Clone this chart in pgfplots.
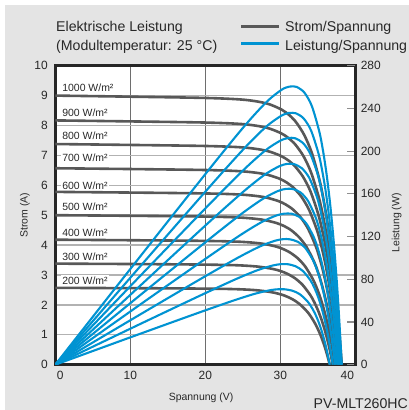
\documentclass[border=0pt]{standalone}
\usepackage{fontspec}
\setmainfont{Liberation Sans}
\usepackage{pgfplots}
\usepackage{pgfplotstable}
\pgfplotsset{compat=1.18}
\definecolor{bggray}{RGB}{228,228,228}
\definecolor{ivgray}{RGB}{88,88,88}
\definecolor{pblue}{RGB}{0,147,210}
\definecolor{hgrid}{RGB}{178,178,178}
\definecolor{vgrid}{RGB}{110,110,110}
\definecolor{txt}{RGB}{40,40,40}

% columns: voltage (V), current (A), power (W)
\pgfplotstableread{
V I P
0 9.000 0
10 8.964 89.6
20.2 8.920 180.2
25.2 8.860 223.3
28.2 8.736 246.3
30.2 8.528 257.6
31.2 8.347 260.4
31.7 8.225 260.7
32.2 8.078 260.1
33.2 7.679 254.9
34.2 7.085 242.3
35.2 6.201 218.3
35.7 5.608 200.2
36.2 4.885 176.8
36.7 4.001 146.8
37.2 2.923 108.7
37.7 1.607 60.6
38.2 0 0
}\gM
\pgfplotstableread{
V I P
0 8.170 0
10 8.137 81.4
20.1 8.098 162.8
25.1 8.044 201.9
28.1 7.930 222.8
30.1 7.742 233.0
31.1 7.578 235.7
31.6 7.467 235.9
32.1 7.334 235.4
33.1 6.971 230.7
34.1 6.432 219.3
35.1 5.629 197.6
35.6 5.091 181.2
36.1 4.434 160.1
36.6 3.632 132.9
37.1 2.654 98.5
37.6 1.459 54.9
38.1 0 0
}\gIX
\pgfplotstableread{
V I P
0 7.380 0
10 7.350 73.5
20 7.315 146.3
25 7.266 181.7
28 7.164 200.6
30 6.993 209.8
31 6.845 212.2
31.5 6.745 212.5
32 6.624 212.0
33 6.297 207.8
34 5.810 197.5
35 5.085 178.0
35.5 4.598 163.2
36 4.005 144.2
36.5 3.281 119.8
37 2.397 88.7
37.5 1.318 49.4
38 0 0
}\gVIII
\pgfplotstableread{
V I P
0 6.570 0
10 6.544 65.4
19.85 6.512 129.3
24.85 6.468 160.7
27.85 6.378 177.6
29.85 6.226 185.8
30.85 6.094 188.0
31.35 6.004 188.2
31.85 5.897 187.8
32.85 5.606 184.1
33.85 5.172 175.1
34.85 4.527 157.8
35.35 4.094 144.7
35.85 3.566 127.8
36.35 2.921 106.2
36.85 2.134 78.6
37.35 1.173 43.8
37.85 0 0
}\gVII
\pgfplotstableread{
V I P
0 5.780 0
10 5.757 57.6
19.7 5.729 112.9
24.7 5.690 140.6
27.7 5.611 155.4
29.7 5.477 162.7
30.7 5.361 164.6
31.2 5.282 164.8
31.7 5.188 164.5
32.7 4.932 161.3
33.7 4.550 153.3
34.7 3.982 138.2
35.2 3.602 126.8
35.7 3.137 112.0
36.2 2.570 93.0
36.7 1.877 68.9
37.2 1.032 38.4
37.7 0 0
}\gVI
\pgfplotstableread{
V I P
0 5.000 0
10 4.980 49.8
19.5 4.956 96.6
24.5 4.923 120.6
27.5 4.854 133.5
29.5 4.738 139.8
30.5 4.638 141.4
31.0 4.570 141.6
31.5 4.488 141.4
32.5 4.266 138.6
33.5 3.936 131.9
34.5 3.445 118.9
35.0 3.116 109.0
35.5 2.714 96.3
36.0 2.223 80.0
36.5 1.624 59.3
37.0 0.893 33.0
37.5 0 0
}\gV
\pgfplotstableread{
V I P
0 4.180 0
10 4.163 41.6
19.3 4.143 80.0
24.3 4.115 100.0
27.3 4.058 110.8
29.3 3.961 116.1
30.3 3.877 117.5
30.8 3.820 117.7
31.3 3.752 117.4
32.3 3.566 115.2
33.3 3.291 109.6
34.3 2.880 98.8
34.8 2.605 90.6
35.3 2.269 80.1
35.8 1.858 66.5
36.3 1.358 49.3
36.8 0.747 27.5
37.3 0 0
}\gIV
\pgfplotstableread{
V I P
0 3.380 0
10 3.367 33.7
19 3.350 63.7
24 3.328 79.9
27 3.281 88.6
29 3.203 92.9
30 3.135 94.1
30.5 3.089 94.2
31 3.034 94.1
32 2.884 92.3
33 2.661 87.8
34 2.329 79.2
34.5 2.106 72.7
35 1.834 64.2
35.5 1.503 53.4
36 1.098 39.5
36.5 0.604 22.0
37 0 0
}\gIII
\pgfplotstableread{
V I P
0 2.570 0
10 2.560 25.6
18.6 2.547 47.4
23.6 2.530 59.7
26.6 2.495 66.4
28.6 2.435 69.7
29.6 2.384 70.6
30.1 2.349 70.7
30.6 2.307 70.6
31.6 2.193 69.3
32.6 2.023 66.0
33.6 1.771 59.5
34.1 1.601 54.6
34.6 1.395 48.3
35.1 1.143 40.1
35.6 0.835 29.7
36.1 0.459 16.6
36.6 0 0
}\gII

\pgfplotsset{
  panel/.style={
    scale only axis, width=300bp, height=299bp,
    at={(55.3bp,45.3bp)}, anchor=south west,
    xmin=0, xmax=40,
    /pgf/number format/assume math mode=true,
    ticklabel style={font=\fontsize{12}{12}\selectfont, text=txt},
    label style={font=\fontsize{10.5}{10.5}\selectfont, text=txt},
  },
}
\tikzset{
  irr/.style={anchor=west, fill=white, inner sep=1.2bp, text=txt,
    font=\fontsize{10.5}{10.5}\selectfont},
  iv/.style={ivgray, line width=2.6bp, smooth, mark=none, solid},
  pw/.style={pblue, line width=2.1bp, smooth, mark=none, solid},
}

\begin{document}
\begin{tikzpicture}[x=1bp,y=1bp]
\useasboundingbox (0,0) rectangle (409,410);
\fill[white] (0,0) rectangle (409,410);
\fill[bggray] (5,0) rectangle (409,405);

% current over voltage
\begin{axis}[panel,
  ymin=0, ymax=10,
  axis background/.style={fill=white},
  xtick={0,10,20,30,40}, ytick={0,1,...,10},
  xticklabel={\ifcase\ticknum\hspace*{10bp}\makebox[0pt]{0}\or 10\or 20\or 30\or\makebox[0pt]{40}\hspace*{16bp}\fi},
  xticklabel style={yshift=-3bp},
  yticklabel style={xshift=-4bp},
  major tick length=0pt,
  xmajorgrids, ymajorgrids,
  x grid style={vgrid, line width=0.9bp},
  y grid style={hgrid, line width=1.4bp},
  axis line style={line width=2.4bp, black!85},
  xlabel={Spannung (V)}, ylabel={Strom (A)},
  xlabel style={at={(axis description cs:0.486,-0.11)}, anchor=center},
  ylabel style={at={(axis description cs:-0.101,0.5)}, anchor=center},
]
\addplot[iv] table[x=V,y=I] {\gM};
\addplot[iv] table[x=V,y=I] {\gIX};
\addplot[iv] table[x=V,y=I] {\gVIII};
\addplot[iv] table[x=V,y=I] {\gVII};
\addplot[iv] table[x=V,y=I] {\gVI};
\addplot[iv] table[x=V,y=I] {\gV};
\addplot[iv] table[x=V,y=I] {\gIV};
\addplot[iv] table[x=V,y=I] {\gIII};
\addplot[iv] table[x=V,y=I] {\gII};
\end{axis}

% power over voltage
\begin{axis}[panel,
  ymin=0, ymax=280,
  hide x axis,
  axis y line*=right,
  y axis line style={line width=2.4bp, black!85},
  ytick={0,40,...,280},
  tick align=inside, major tick length=8bp,
  major tick style={hgrid!80!black, line width=1.2bp},
  yticklabel style={xshift=2bp},
  ylabel={Leistung (W)},
  ylabel style={at={(axis description cs:1.138,0.474)}, anchor=center},
]
\addplot[pw] table[x=V,y=P] {\gM};
\addplot[pw] table[x=V,y=P] {\gIX};
\addplot[pw] table[x=V,y=P] {\gVIII};
\addplot[pw] table[x=V,y=P] {\gVII};
\addplot[pw] table[x=V,y=P] {\gVI};
\addplot[pw] table[x=V,y=P] {\gV};
\addplot[pw] table[x=V,y=P] {\gIV};
\addplot[pw] table[x=V,y=P] {\gIII};
\addplot[pw] table[x=V,y=P] {\gII};
\node[irr] at (axis cs:0.75,259.3) {1000 W/m²};
\node[irr] at (axis cs:0.75,235.8) {900 W/m²};
\node[irr] at (axis cs:0.75,214.2) {800 W/m²};
\node[irr] at (axis cs:0.75,193.5) {700 W/m²};
\node[irr] at (axis cs:0.75,168.0) {600 W/m²};
\node[irr] at (axis cs:0.75,147.6) {500 W/m²};
\node[irr] at (axis cs:0.75,124.0) {400 W/m²};
\node[irr] at (axis cs:0.75,101.4) {300 W/m²};
\node[irr] at (axis cs:0.75,79.0) {200 W/m²};
\end{axis}

% title and legend
\begin{scope}[every node/.style={inner sep=0, text=txt, font=\fontsize{14.2}{14.2}\selectfont}]
\node[anchor=base west] at (56,378.3) {Elektrische Leistung};
\node[anchor=base west] at (56,360) {(Modultemperatur: 25 °C)};
\draw[ivgray, line width=2.6bp] (241,383.3) -- (279,383.3);
\draw[pblue, line width=2.6bp] (241,366.7) -- (279,366.7);
\node[anchor=base west] at (285,378.3) {Strom/Spannung};
\node[anchor=base west] at (285,360) {Leistung/Spannung};
\node[anchor=base east] at (408,1.7) {PV-MLT260HC};
\end{scope}
\end{tikzpicture}
\end{document}
